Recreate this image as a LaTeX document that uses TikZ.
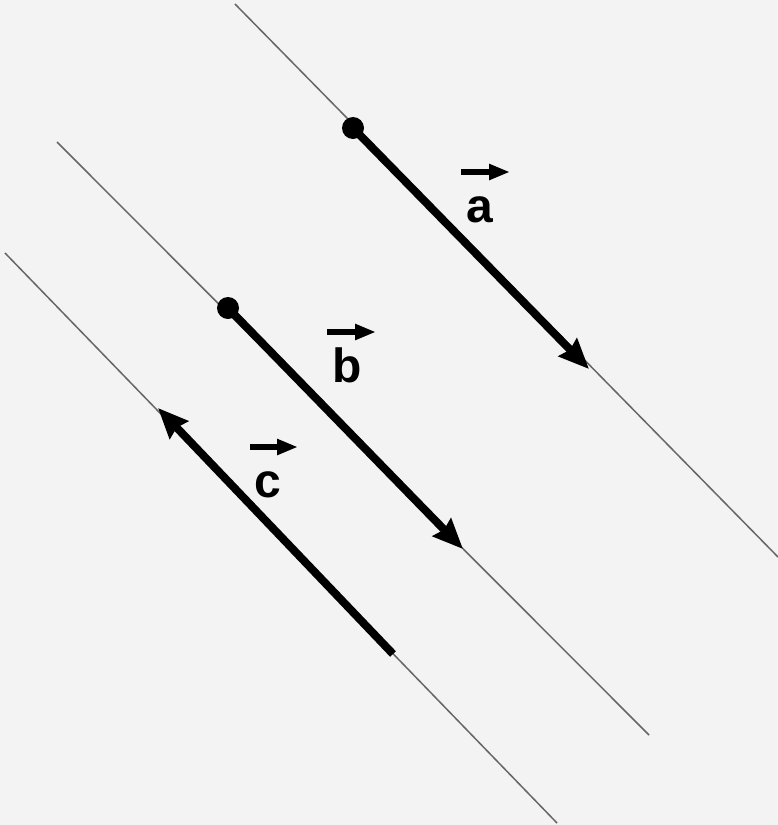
\documentclass[tikz,border=0pt]{standalone}
\usepackage{fontspec}
\setmainfont{Liberation Sans}
\usetikzlibrary{arrows.meta}
\definecolor{bg}{HTML}{F3F3F3}
\definecolor{guide}{HTML}{666666}
\begin{document}
\begin{tikzpicture}[x=1pt,y=-1pt,
  guideline/.style={draw=guide,line width=1.5pt},
  vecline/.style={draw=black,line width=8pt,line cap=butt,-{Stealth[length=30pt,width=25pt,inset=3pt]}},
  startdot/.style={circle,fill=black,inner sep=0pt,minimum size=22pt},
  lbl/.style={anchor=base,inner sep=0pt,font=\fontsize{48}{48}\selectfont\bfseries},
  overarrow/.style={draw=black,line width=5.5pt,-{Triangle[length=21pt,width=15pt]}}]
\fill[bg] (0,0) rectangle (778,825);
\useasboundingbox (0,0) rectangle (778,825);
% guide lines
\coordinate (g1s) at (235,4);   \coordinate (g1e) at (778,557);
\coordinate (g2s) at (57,142);  \coordinate (g2e) at (649,735);
\coordinate (g3s) at (5,253);   \coordinate (g3e) at (557,823);
\draw[guideline] (g1s) -- (g1e);
\draw[guideline] (g2s) -- (g2e);
\draw[guideline] (g3s) -- (g3e);
% vector a
\node[startdot] (da) at (353,128) {};
\coordinate (ta) at (589,369);
\draw[vecline] (da.center) -- (ta);
% vector b
\node[startdot] (db) at (228,308) {};
\coordinate (tb) at (463,549);
\draw[vecline] (db.center) -- (tb);
% vector c
\coordinate (sc) at (393,654);
\coordinate (tc) at (158,408);
\draw[vecline] (sc) -- (tc);
% labels
\node[lbl] (la) at (480,222) {a};
\node[lbl] (lb) at (347,382) {b};
\node[lbl] (lc) at (268,497) {c};
\draw[overarrow] ([shift={(-19,-50)}]la.base) -- ([shift={(30,-50)}]la.base);
\draw[overarrow] ([shift={(-20,-50)}]lb.base) -- ([shift={(29,-50)}]lb.base);
\draw[overarrow] ([shift={(-18,-50)}]lc.base) -- ([shift={(30,-50)}]lc.base);
\end{tikzpicture}
\end{document}
